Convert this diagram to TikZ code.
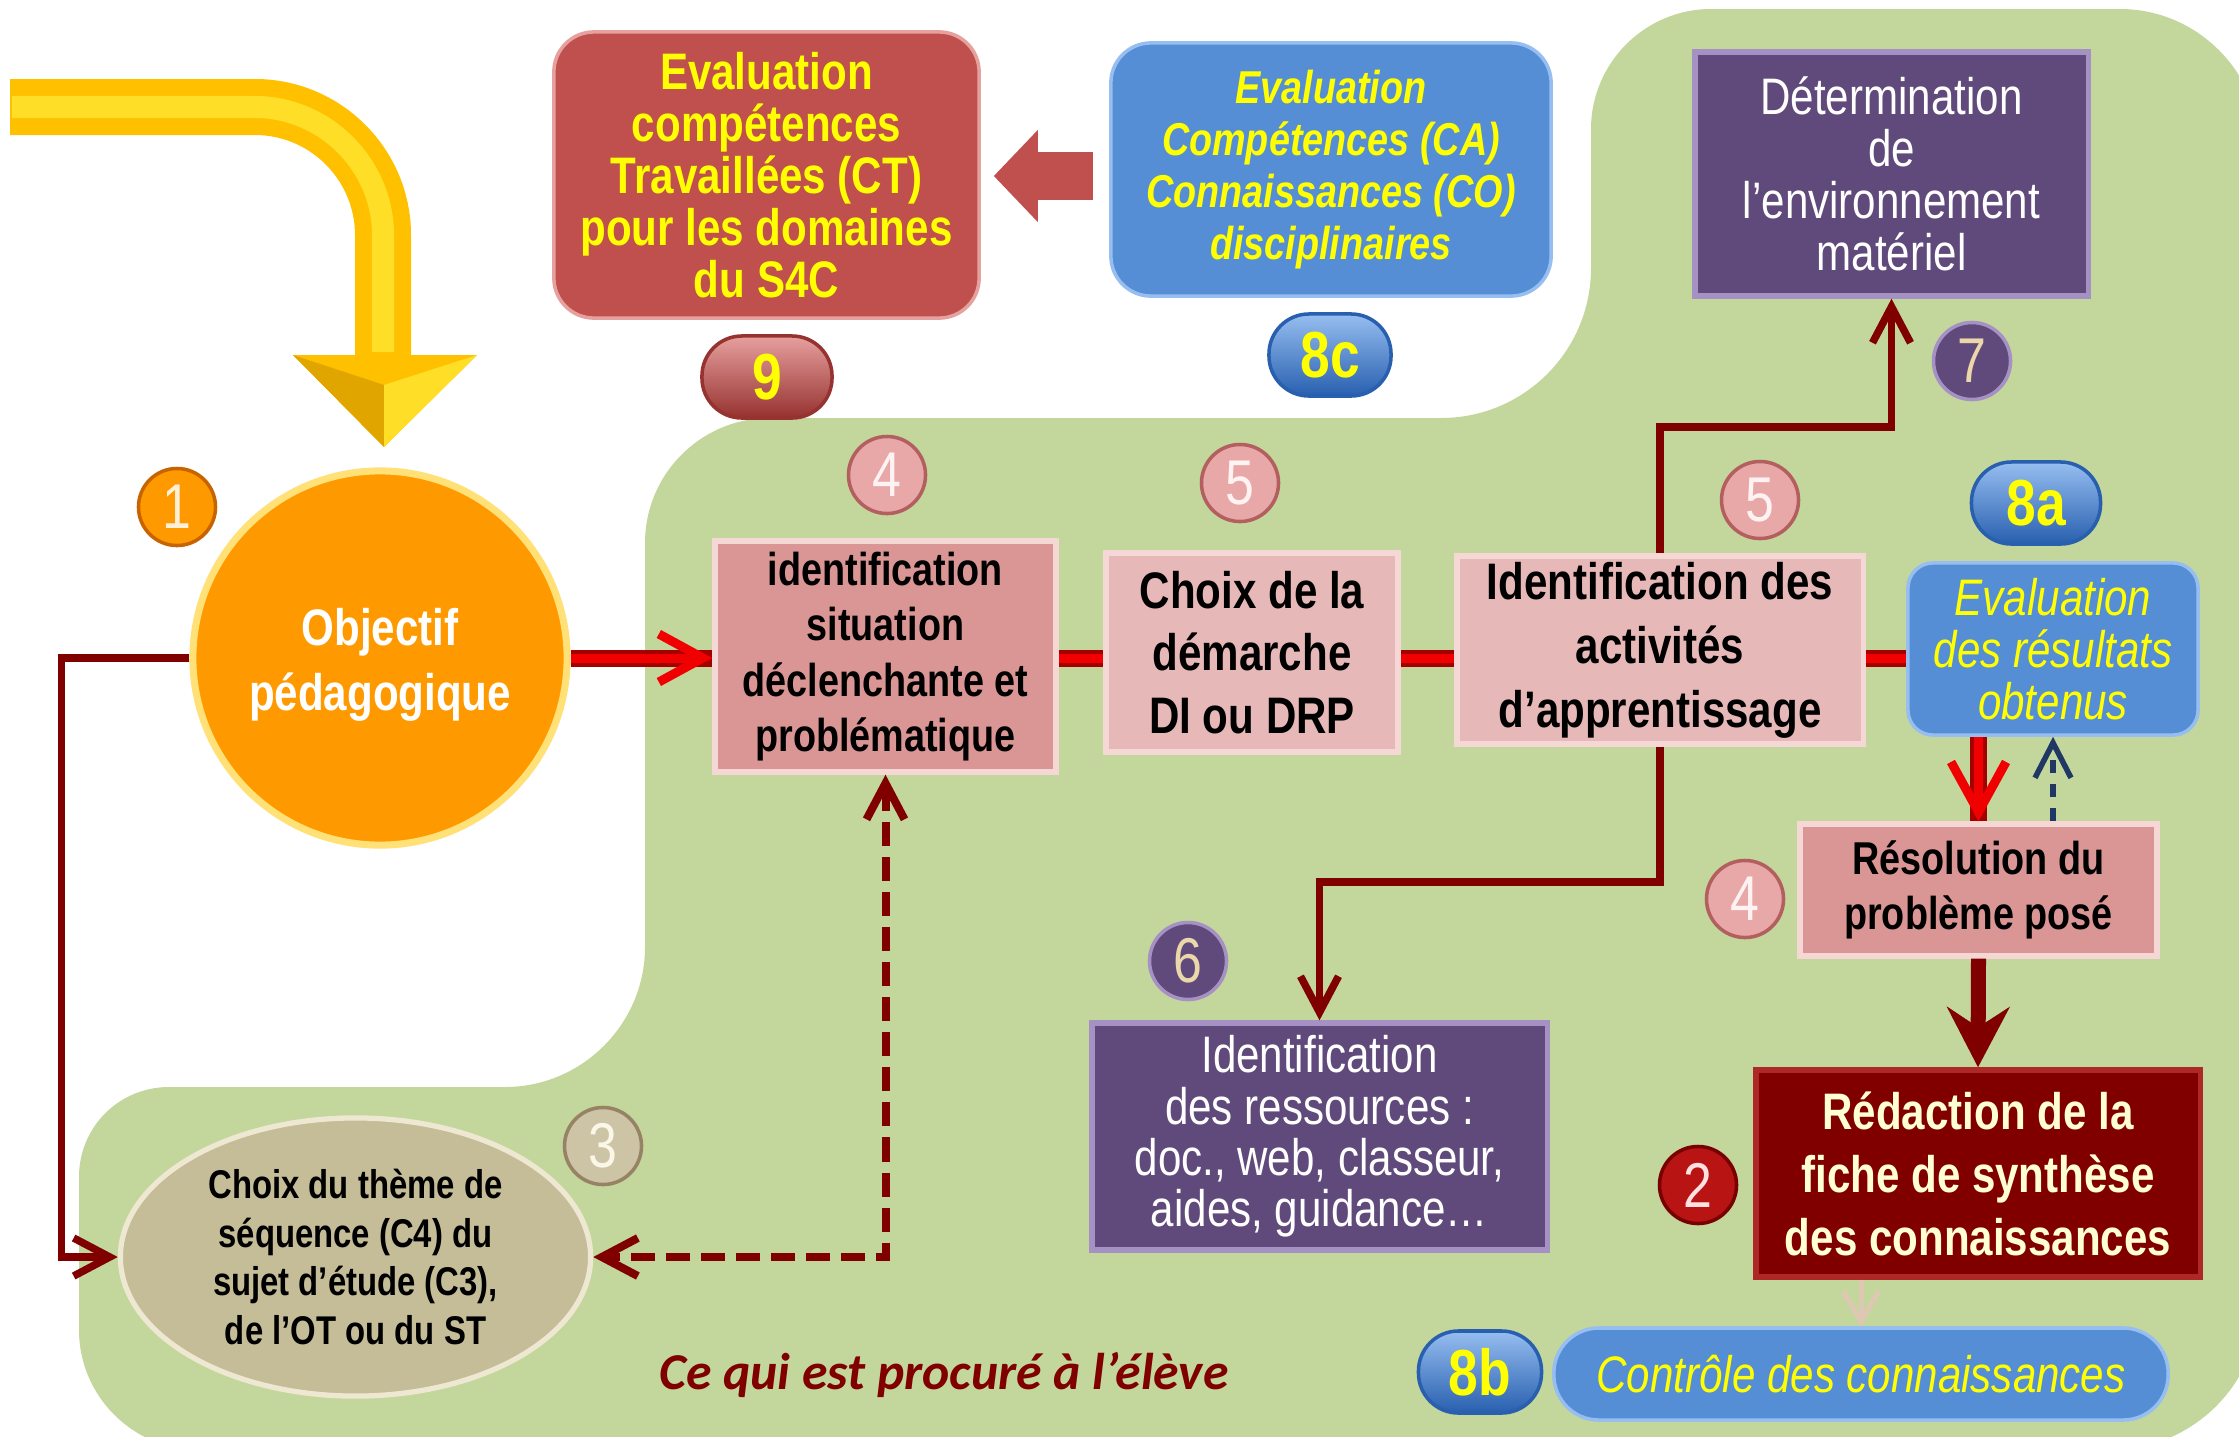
\documentclass[tikz,border=0pt]{standalone}
\usepackage{fontspec}
\setmainfont{Liberation Sans}
\newfontfamily\nar[FakeStretch=0.82]{Liberation Sans}
\newfontfamily\cali{Carlito}
\usetikzlibrary{arrows.meta,shapes.geometric}
\definecolor{grn}{RGB}{195,214,155}
\definecolor{evred}{RGB}{192,80,77}
\definecolor{evredL}{RGB}{230,160,158}
\definecolor{evredD}{RGB}{150,50,48}
\definecolor{evblue}{RGB}{85,142,213}
\definecolor{evblueL}{RGB}{150,190,240}
\definecolor{evblueD}{RGB}{40,95,175}
\definecolor{pinkA}{RGB}{217,150,148}
\definecolor{pinkB}{RGB}{230,185,184}
\definecolor{pinkL}{RGB}{245,215,214}
\definecolor{purp}{RGB}{96,74,123}
\definecolor{purpL}{RGB}{165,145,195}
\definecolor{dred}{RGB}{128,0,0}
\definecolor{dredL}{RGB}{175,40,40}
\definecolor{orng}{RGB}{255,153,0}
\definecolor{orngL}{RGB}{255,225,120}
\definecolor{tanc}{RGB}{196,189,151}
\definecolor{tanL}{RGB}{238,232,210}
\definecolor{yel}{RGB}{255,255,0}
\definecolor{navy}{RGB}{31,56,100}
\definecolor{cream}{RGB}{255,255,210}
\definecolor{gold}{RGB}{255,192,0}
\definecolor{goldL}{RGB}{255,222,40}
\definecolor{goldD}{RGB}{225,165,0}
\definecolor{brred}{RGB}{240,0,0}
\definecolor{brredD}{RGB}{165,0,0}
\definecolor{faint}{RGB}{222,200,180}
\tikzset{
  bx/.style={rectangle, inner sep=0pt, align=center},
  pinkbox/.style={bx, fill=pinkA, draw=pinkL, line width=1.5pt, font=\nar\bfseries\fontsize{13.1}{15.8}\selectfont},
  pinkboxb/.style={bx, fill=pinkB, draw=pinkL, line width=1.5pt, font=\nar\bfseries\fontsize{14.6}{17.8}\selectfont},
  purpbox/.style={bx, fill=purp, draw=purpL, line width=1.5pt, text=white, font=\nar\fontsize{14.6}{14.8}\selectfont},
  badge/.style={circle, inner sep=0pt, minimum size=7.7mm, line width=1pt, font=\nar\fontsize{18}{18}\selectfont},
  pill/.style={rectangle, rounded corners=4mm, inner sep=0pt, minimum height=8.2mm, line width=1pt, text=yel, font=\nar\bfseries\fontsize{18.5}{18.5}\selectfont},
  conn/.style={draw=dred, line width=0.75mm},
  barb/.style={-{Straight Barb[length=3.6mm,width=3.8mm]}},
  pipe/.style={draw=brred, line width=0.9mm, preaction={draw=brredD, line width=1.7mm, -}},
}
\begin{document}
\begin{tikzpicture}[x=0.01cm,y=-0.01cm]
\useasboundingbox (0,0) rectangle (2239,1436);
\fill[white] (0,0) rectangle (2239,1436);
\begin{scope}
\clip (0,0) rectangle (2239,1436);
\fill[grn] (1711,9) -- (2120,9) .. controls (2197,9) and (2260,72) .. (2260,149)
  -- (2260,1300) .. controls (2260,1383) and (2193,1450) .. (2110,1450)
  -- (199,1450) .. controls (133,1450) and (79,1396) .. (79,1330)
  -- (79,1177) .. controls (79,1127) and (119,1087) .. (169,1087)
  -- (505,1087) .. controls (582,1087) and (645,1024) .. (645,947)
  -- (645,543) .. controls (645,474) and (701,418) .. (770,418)
  -- (1441,418) .. controls (1524,418) and (1591,351) .. (1591,268)
  -- (1591,129) .. controls (1591,63) and (1645,9) .. (1711,9) -- cycle;
\end{scope}
% yellow bent arrow
\fill[gold] (10,79) -- (255,79) .. controls (341,79) and (411,149) .. (411,235) -- (411,355) -- (477,355) -- (384,447) -- (293,355) -- (355,355) -- (355,235) .. controls (355,180) and (310,135) .. (255,135) -- (10,135) -- cycle;
\draw[goldL, line width=2.2mm] (12,107) -- (255,107) .. controls (325,107) and (383,165) .. (383,235) -- (383,352);
\fill[goldD] (293,355) -- (384,447) -- (384,385) -- cycle;
\fill[goldL] (477,355) -- (384,447) -- (384,385) -- cycle;

% top boxes
\node[bx, rounded corners=4mm, fill=evred, draw=evredL, line width=1pt, minimum width=4.25cm, minimum height=2.86cm, text=yel, font=\nar\bfseries\fontsize{14.6}{14.8}\selectfont] (ct) at (766.5,175) {Evaluation\\compétences\\Travaillées (CT)\\pour les domaines\\du S4C};
\node[bx, rounded corners=4mm, fill=evblue, draw=evblueL, line width=1pt, minimum width=4.40cm, minimum height=2.53cm, text=yel, font=\nar\bfseries\itshape\fontsize{13.1}{14.8}\selectfont] (ca) at (1331,169.5) {Evaluation\\Compétences (CA)\\Connaissances (CO)\\disciplinaires};
\draw[evred, line width=4.7mm, -{Triangle[length=4.4mm,width=9.2mm,line width=0.4pt]}, shorten <=1.6mm, shorten >=1.3mm] (ca.west |- 0,176) -- (ct.east |- 0,176);

\node[pill, top color=evredL, bottom color=evredD, draw=evredD, minimum width=1.30cm] (p9) at (767,377) {9};
\node[pill, top color=evblueL, bottom color=evblueD, draw=evblueD, minimum width=1.22cm] (p8c) at (1330,355) {8c};

\node[purpbox, minimum width=3.93cm, minimum height=2.44cm] (b7) at (1891.5,174) {Détermination\\de\\l’environnement\\matériel};
\node[badge, fill=purp, draw=purpL, text={rgb,255:red,235;green,215;blue,170}] (n7) at (1972,361) {7};

% main row
\node[circle, fill=orng, draw=orngL, line width=2pt, minimum size=3.74cm, inner sep=0pt, align=center, text=white, font=\nar\bfseries\fontsize{14.6}{18.5}\selectfont] (obj) at (380,658) {\rule{0pt}{5mm}Objectif\\pédagogique};
\node[badge, fill=orng, draw={rgb,255:red,200;green,100;blue,0}, text={rgb,255:red,255;green,240;blue,215}] (n1) at (177,507) {1};

\node[pinkbox, minimum width=3.41cm, minimum height=2.31cm] (b1) at (885.5,656.5) {identification\\situation\\déclenchante et\\problématique};
\node[pinkboxb, minimum width=2.92cm, minimum height=1.99cm] (b2) at (1252,652.5) {Choix de la\\démarche\\DI ou DRP};
\node[pinkboxb, minimum width=4.06cm, minimum height=1.88cm, font=\nar\bfseries\fontsize{14.6}{18.2}\selectfont] (b3) at (1660,650) {Identification des\\activités\\d’apprentissage};
\node[bx, rounded corners=2.5mm, fill=evblue, draw=evblueL, line width=1pt, minimum width=2.90cm, minimum height=1.72cm, text=yel, font=\nar\itshape\fontsize{14.6}{14.8}\selectfont] (ev) at (2053,649) {Evaluation\\des résultats\\obtenus};

\node[badge, fill={rgb,255:red,232;green,168;blue,168}, draw={rgb,255:red,180;green,95;blue,95}, text={rgb,255:red,255;green,242;blue,242}] (n4a) at (887,475) {4};
\node[badge, fill={rgb,255:red,232;green,168;blue,168}, draw={rgb,255:red,180;green,95;blue,95}, text={rgb,255:red,255;green,242;blue,242}] (n5a) at (1240,483) {5};
\node[badge, fill={rgb,255:red,232;green,168;blue,168}, draw={rgb,255:red,180;green,95;blue,95}, text={rgb,255:red,255;green,242;blue,242}] (n5b) at (1760,500) {5};
\node[pill, top color=evblueL, bottom color=evblueD, draw=evblueD, minimum width=1.29cm] (p8a) at (2036,503) {8a};

% right column
\node[pinkbox, minimum width=3.57cm, minimum height=1.32cm] (res) at (1978.5,890) {Résolution du\\problème posé};
\node[badge, fill={rgb,255:red,232;green,168;blue,168}, draw={rgb,255:red,180;green,95;blue,95}, text={rgb,255:red,255;green,242;blue,242}] (n4b) at (1745,899) {4};
\node[bx, fill=dred, draw=dredL, line width=1.5pt, minimum width=4.44cm, minimum height=2.07cm, text=cream, font=\nar\bfseries\fontsize{14.6}{17.9}\selectfont] (red) at (1978,1173.5) {Rédaction de la\\fiche de synthèse\\des connaissances};
\node[badge, fill={rgb,255:red,185;green,20;blue,20}, draw={rgb,255:red,120;green,0;blue,0}, text={rgb,255:red,255;green,225;blue,225}] (n2) at (1698,1185) {2};
\node[bx, rounded corners=4.5mm, fill=evblue, draw=evblueL, line width=1pt, minimum width=6.14cm, minimum height=0.92cm, text=yel, font=\nar\itshape\fontsize{14.6}{14.8}\selectfont] (ctl) at (1861,1374) {Contrôle des connaissances};
\node[pill, top color=evblueL, bottom color=evblueD, draw=evblueD, minimum width=1.23cm] (p8b) at (1480,1372) {8b};

% lower middle
\node[purpbox, minimum width=4.55cm, minimum height=2.27cm, font=\nar\fontsize{14.6}{14.6}\selectfont] (b6) at (1319.5,1136.5) {Identification\\des ressources :\\doc., web, classeur,\\aides, guidance…};
\node[badge, fill=purp, draw=purpL, text={rgb,255:red,235;green,215;blue,170}] (n6) at (1188,961) {6};

% lower left
\node[ellipse, fill=tanc, draw=tanL, line width=1.5pt, minimum width=4.70cm, minimum height=2.78cm, inner sep=0pt, align=center, font=\nar\bfseries\fontsize{11.4}{13.8}\selectfont] (ell) at (355.5,1257) {Choix du thème de\\séquence (C4) du\\sujet d’étude (C3),\\de l’OT ou du ST};
\node[badge, fill={rgb,255:red,205;green,195;blue,165}, draw={rgb,255:red,150;green,130;blue,100}, text={rgb,255:red,250;green,246;blue,232}] (n3) at (603,1146) {3};
\node[text=dred, font=\cali\bfseries\itshape\fontsize{14.7}{15}\selectfont, inner sep=0pt] (note) at (944,1375) {Ce qui est procuré à l’élève};

% connectors
\coordinate (j1) at (1660,427);
\coordinate (j2) at (1660,882);
\draw[pipe, -{Straight Barb[length=4.4mm,width=4.8mm]}] (obj.east) -- (b1.west |- obj.east);
\draw[pipe] (b1.east |- obj.east) -- (b2.west |- obj.east);
\draw[pipe] (b2.east |- obj.east) -- (b3.west |- obj.east);
\draw[pipe] (b3.east |- obj.east) -- (ev.west |- obj.east);
\draw[pipe, -{Straight Barb[length=5mm,width=5.5mm]}] (res.north |- ev.south) -- (res.north);
\draw[navy, line width=0.55mm, dash pattern=on 1.3mm off 1.1mm, -{Straight Barb[length=3.5mm,width=3.6mm]}] (ev.south |- res.north) -- (ev.south);
\draw[dred, line width=1.5mm, -{Stealth[length=6mm,width=6.2mm,inset=2mm]}] (res.south) -- (red.north);
\draw[faint, line width=0.5mm, -{Straight Barb[length=3mm,width=3.6mm]}] (ctl.north |- red.south) -- (ctl.north);
\draw[conn, barb] (b3.north) -- (j1) -| (b7.south);
\draw[conn, barb] (b3.south) -- (j2) -| (b6.north);
\draw[conn, barb] (obj.west) -- ([xshift=-1.28cm]obj.west) |- (ell.west);
\draw[conn, line width=0.8mm, dash pattern=on 2.4mm off 1.1mm, {Straight Barb[length=3.6mm,width=3.8mm]}-{Straight Barb[length=3.6mm,width=3.8mm]}] (b1.south) |- (ell.east);
\end{tikzpicture}
\end{document}
